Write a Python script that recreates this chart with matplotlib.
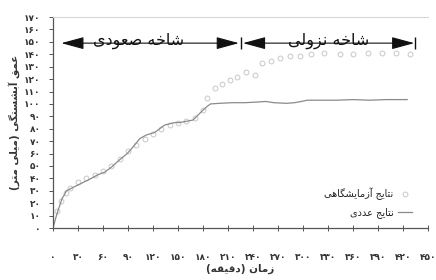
import matplotlib
matplotlib.use("Agg")
import matplotlib.pyplot as plt
from matplotlib.ticker import FixedLocator, FuncFormatter

# --- data ---
time_num = [0, 2, 5, 8, 11, 13, 16, 22, 28, 34, 40, 46, 54, 62, 70, 80, 89, 97, 104, 112, 122, 128,
            134, 140, 146, 152, 160, 168, 174, 180, 185, 189, 200, 215, 230, 245, 255, 265, 280, 290,
            298, 305, 320, 340, 360, 380, 400, 425]
depth_num = [0, 5, 12, 18, 24, 26, 30, 32, 34, 36, 38, 40, 43, 45, 49, 55, 60, 66, 72, 75, 77, 80,
             83, 84, 85, 85, 86, 87, 91, 95, 98, 100, 100.5, 101, 101, 101.5, 102, 101, 100.5, 101,
             102, 103, 103, 103, 103.5, 103, 103.5, 103.5]

time_exp = [5, 10, 15, 20, 30, 40, 50, 60, 70, 80, 90, 100, 110, 120, 130, 140, 150, 160, 170, 180,
            185, 194, 203, 212, 221, 232, 242, 251, 262, 272, 285, 297, 310, 325, 345, 360, 378, 395,
            412, 428]
depth_exp = [14, 22, 28, 32, 37, 40, 43, 46, 50, 56, 62, 67, 72, 76, 80, 83, 85, 86, 89, 95,
             105, 113, 116, 119, 122, 126, 123, 133, 135, 137, 139, 139, 140, 141, 140, 140, 141, 141,
             141, 140]

x_ticks = list(range(0, 451, 30))
y_ticks = list(range(0, 171, 10))

label_rise = "شاخه صعودی"
label_fall = "شاخه نزولی"
label_exp = "نتایج آزمایشگاهی"
label_num = "نتایج عددی"
x_title = "زمان (دقیقه)"
y_title = "عمق آبشستگی (میلی متر)"

# branch annotation (minutes / mm)
branch_start, branch_split, branch_end, branch_level = 10, 225.5, 435, 149

# --- minimal Arabic/Persian shaping (matplotlib has no complex text layout) ---
# letter: (isolated, final, initial, medial); None -> letter does not join forward
FORMS = {
    "ا": ("\uFE8D", "\uFE8E", None, None),
    "آ": ("\uFE81", "\uFE82", None, None),
    "ب": ("\uFE8F", "\uFE90", "\uFE91", "\uFE92"),
    "ت": ("\uFE95", "\uFE96", "\uFE97", "\uFE98"),
    "ج": ("\uFE9D", "\uFE9E", "\uFE9F", "\uFEA0"),
    "خ": ("\uFEA5", "\uFEA6", "\uFEA7", "\uFEA8"),
    "د": ("\uFEA9", "\uFEAA", None, None),
    "ر": ("\uFEAD", "\uFEAE", None, None),
    "ز": ("\uFEAF", "\uFEB0", None, None),
    "س": ("\uFEB1", "\uFEB2", "\uFEB3", "\uFEB4"),
    "ش": ("\uFEB5", "\uFEB6", "\uFEB7", "\uFEB8"),
    "ص": ("\uFEB9", "\uFEBA", "\uFEBB", "\uFEBC"),
    "ع": ("\uFEC9", "\uFECA", "\uFECB", "\uFECC"),
    "ق": ("\uFED5", "\uFED6", "\uFED7", "\uFED8"),
    "ل": ("\uFEDD", "\uFEDE", "\uFEDF", "\uFEE0"),
    "م": ("\uFEE1", "\uFEE2", "\uFEE3", "\uFEE4"),
    "ن": ("\uFEE5", "\uFEE6", "\uFEE7", "\uFEE8"),
    "ه": ("\uFEE9", "\uFEEA", "\uFEEB", "\uFEEC"),
    "و": ("\uFEED", "\uFEEE", None, None),
    "ی": ("\uFBFC", "\uFBFD", "\uFBFE", "\uFBFF"),
    "گ": ("\uFB92", "\uFB93", "\uFB94", "\uFB95"),
}
MIRROR = {"(": ")", ")": "("}


def fa(text):
    out = []
    for i, ch in enumerate(text):
        if ch not in FORMS:
            out.append(MIRROR.get(ch, ch))
            continue
        prev = text[i - 1] if i > 0 else ""
        nxt = text[i + 1] if i + 1 < len(text) else ""
        join_prev = prev in FORMS and FORMS[prev][2] is not None
        join_next = FORMS[ch][2] is not None and nxt in FORMS
        iso, fin, ini, med = FORMS[ch]
        if join_prev and join_next:
            out.append(med)
        elif join_prev:
            out.append(fin)
        elif join_next:
            out.append(ini)
        else:
            out.append(iso)
    return "".join(reversed(out))


def fa_digits(v, _pos=None):
    return str(int(v)).translate(str.maketrans("0123456789", "۰۱۲۳۴۵۶۷۸۹"))


plt.rcParams["font.family"] = ["DejaVu Sans"]

fig = plt.figure(figsize=(4.36, 2.8), dpi=100)
ax = fig.add_axes([0.1216, 0.1857, 0.86, 0.7533])

ax.plot(time_exp, depth_exp, linestyle="none", marker="o", markersize=3.5, markerfacecolor="none",
        markeredgecolor="#c8c8c8", markeredgewidth=0.7, label=fa(label_exp))
ax.plot(time_num, depth_num, color="#8a8a8a", lw=0.9, label=fa(label_num))

ax.set_xlim(0, 450)
ax.set_ylim(0, 170)
ax.xaxis.set_major_locator(FixedLocator(x_ticks))
ax.yaxis.set_major_locator(FixedLocator(y_ticks))
ax.xaxis.set_major_formatter(FuncFormatter(fa_digits))
ax.yaxis.set_major_formatter(FuncFormatter(fa_digits))
ax.tick_params(axis="x", direction="inout", length=4, width=0.7, color="#555555",
               labelsize=6.5, labelcolor="#333333", pad=16)
ax.tick_params(axis="y", direction="out", length=3, width=0.7, color="#555555",
               labelsize=6.5, labelcolor="#333333", pad=6)
for lbl in ax.get_xticklabels() + ax.get_yticklabels():
    lbl.set_fontweight("bold")

for side in ("left", "bottom"):
    ax.spines[side].set_color("#555555")
    ax.spines[side].set_linewidth(0.9)
ax.spines["top"].set_color("#d6d6d6")
ax.spines["top"].set_linewidth(0.8)
ax.spines["right"].set_visible(False)

ax.set_xlabel(fa(x_title), fontsize=7.5, fontweight="bold", color="#333333", labelpad=1)
ax.set_ylabel(fa(y_title), fontsize=7.5, fontweight="bold", color="#333333", labelpad=3)

# branch arrows
arrow_style = dict(arrowstyle="<|-|>,head_length=1.4,head_width=0.38", color="#111111", lw=0.8,
                   mutation_scale=10, shrinkA=0, shrinkB=0)
ax.annotate("", xy=(branch_start, branch_level), xytext=(branch_split - 2.5, branch_level),
            arrowprops=arrow_style, annotation_clip=False)
ax.annotate("", xy=(branch_split + 2.5, branch_level), xytext=(branch_end - 1.5, branch_level),
            arrowprops=arrow_style, annotation_clip=False)
ax.vlines([branch_split, branch_end], branch_level - 5, branch_level + 5, color="#111111",
          lw=1.0, clip_on=False)
ax.text((branch_start + branch_split) / 2 - 15, branch_level - 1.5, fa(label_rise), fontsize=11.5,
        ha="center", va="baseline", color="#111111")
ax.text((branch_split + branch_end) / 2, branch_level - 1.5, fa(label_fall), fontsize=11.5,
        ha="center", va="baseline", color="#111111")

ax.legend(loc="lower right", bbox_to_anchor=(0.98, 0.005), markerfirst=False, frameon=False,
          fontsize=7, handlelength=1.4, handletextpad=0.5, labelspacing=0.75, numpoints=1,
          labelcolor="#222222")

fig.savefig("out.png", dpi=100, facecolor="white")
